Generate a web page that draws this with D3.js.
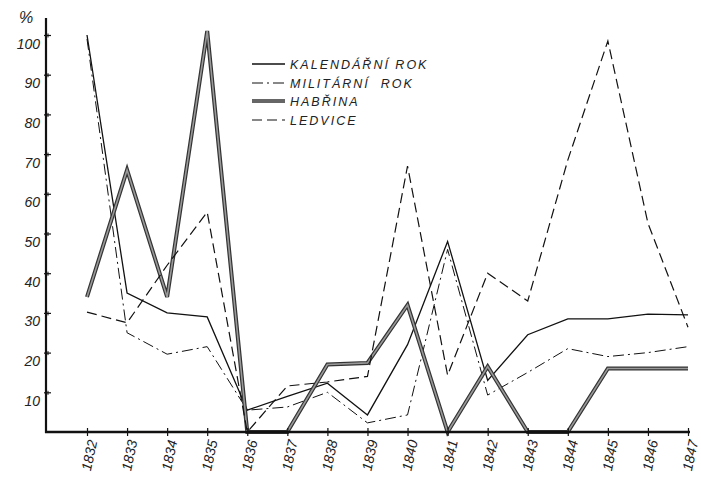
<!DOCTYPE html>
<html>
<head>
<meta charset="utf-8">
<script src="https://cdn.jsdelivr.net/npm/d3@7"></script>
<style>
  body { margin: 0; background: #fff; }
  svg { display: block; }
  .lbl { font-family: 'Liberation Sans', 'DejaVu Sans', sans-serif; font-style: italic; fill: #222; }
</style>
</head>
<body>
<div id="chart"></div>
<script>
// data
const years = [1832, 1833, 1834, 1835, 1836, 1837, 1838, 1839, 1840, 1841, 1842, 1843, 1844, 1845, 1846, 1847];
const kalendarni = [100, 35, 30, 29, 5.5, 9, 12.3, 4.3, 22, 48, 13, 24.5, 28.5, 28.5, 29.7, 29.5];
const militarni = [99, 25, 19.6, 21.5, 5.5, 6.3, 10, 2.3, 4.3, 46, 9.3, 15, 21, 19, 20, 21.5];
const habrina = [34, 66, 34, 101, 0, 0, 17, 17.4, 32, 0, 16.5, 0, 0, 16, 16, 16];
const ledvice = [30.2, 27.5, 42, 55.4, 0, 11.6, 12.6, 14, 67, 14.3, 40, 33, 68.5, 98.5, 52.6, 26.4];
const yTicks = [10, 20, 30, 40, 50, 60, 70, 80, 90, 100];

const series = [
  { name: 'KALENDÁŘNÍ ROK', values: kalendarni, style: 'solid' },
  { name: 'MILITÁRNÍ  ROK', values: militarni, style: 'dashdot' },
  { name: 'HABŘINA', values: habrina, style: 'thick' },
  { name: 'LEDVICE', values: ledvice, style: 'dashed' }
];

const width = 701, height = 484;
const axisX = 46, axisY = 432;

const svg = d3.select('#chart').append('svg')
  .attr('width', width)
  .attr('height', height);

const xScale = d3.scaleLinear()
  .domain([1832, 1847])
  .range([87, 688]);

const yScale = d3.scaleLinear()
  .domain([0, 100])
  .range([axisY, 35]);

function strokeIt(sel, style) {
  if (style === 'solid') {
    sel.attr('stroke', '#111').attr('stroke-width', 1.3);
  } else if (style === 'dashdot') {
    sel.attr('stroke', '#111').attr('stroke-width', 1).attr('stroke-dasharray', '11,4,2,4');
  } else if (style === 'dashed') {
    sel.attr('stroke', '#111').attr('stroke-width', 1.2).attr('stroke-dasharray', '10,5');
  }
}

const line = d3.line()
  .x((d, i) => xScale(years[i]))
  .y(d => yScale(d));

// lines
series.forEach(s => {
  if (s.style === 'thick') {
    svg.append('path')
      .attr('d', line(s.values))
      .attr('fill', 'none')
      .attr('stroke', '#333')
      .attr('stroke-width', 4)
      .attr('stroke-linejoin', 'miter');
    svg.append('path')
      .attr('d', line(s.values))
      .attr('fill', 'none')
      .attr('stroke', '#999')
      .attr('stroke-width', 1.6);
  } else {
    svg.append('path')
      .attr('d', line(s.values))
      .attr('fill', 'none')
      .call(strokeIt, s.style);
  }
});

// axes
const yAxis = d3.axisLeft(yScale)
  .tickValues(yTicks)
  .tickSize(0)
  .tickFormat('');

const xAxis = d3.axisBottom(xScale)
  .tickValues(years)
  .tickSize(0)
  .tickFormat('');

const yAxisG = svg.append('g').attr('transform', `translate(${axisX},0)`).call(yAxis);
yAxisG.select('.domain').remove();
yAxisG.append('line')
  .attr('x1', 0).attr('x2', 0)
  .attr('y1', 18).attr('y2', axisY + 1)
  .attr('stroke', '#111').attr('stroke-width', 2.2);
yAxisG.selectAll('.tick').append('line')
  .attr('x1', -2).attr('x2', 5)
  .attr('stroke', '#111').attr('stroke-width', 1.2);
yAxisG.selectAll('.tick').append('line')
  .attr('y1', -2).attr('y2', 2)
  .attr('x1', 2).attr('x2', 2)
  .attr('stroke', '#111').attr('stroke-width', 1);
yAxisG.selectAll('.tick').append('text')
  .attr('class', 'lbl')
  .attr('x', -6)
  .attr('y', 13)
  .attr('text-anchor', 'end')
  .attr('fill', '#222')
  .style('font-size', '14px')
  .text(d => d);

const xAxisG = svg.append('g').attr('transform', `translate(0,${axisY})`).call(xAxis);
xAxisG.select('.domain').remove();
xAxisG.append('line')
  .attr('x1', axisX - 1).attr('x2', 690)
  .attr('y1', 0).attr('y2', 0)
  .attr('stroke', '#111').attr('stroke-width', 2.6);
xAxisG.selectAll('.tick').append('line')
  .attr('y1', -4).attr('y2', 4)
  .attr('stroke', '#111').attr('stroke-width', 1.2);
xAxisG.selectAll('.tick').append('text')
  .attr('class', 'lbl')
  .attr('text-anchor', 'end')
  .attr('transform', 'translate(5,8) rotate(-78)')
  .attr('dy', '0.35em')
  .style('font-size', '14px')
  .text(d => d);

svg.append('text')
  .attr('class', 'lbl')
  .attr('x', 19).attr('y', 23)
  .style('font-size', '16px')
  .text('%');

// legend
const legendRows = [64, 83, 101, 120];
const legend = svg.append('g');
series.forEach((s, i) => {
  const ly = legendRows[i];
  if (s.style === 'thick') {
    legend.append('line')
      .attr('x1', 252).attr('x2', 285).attr('y1', ly).attr('y2', ly)
      .attr('stroke', '#333').attr('stroke-width', 3.4);
    legend.append('line')
      .attr('x1', 252).attr('x2', 285).attr('y1', ly).attr('y2', ly)
      .attr('stroke', '#999').attr('stroke-width', 1.2);
  } else {
    legend.append('line')
      .attr('x1', 252).attr('x2', 285).attr('y1', ly).attr('y2', ly)
      .call(strokeIt, s.style);
  }
  legend.append('text')
    .attr('class', 'lbl')
    .attr('x', 290)
    .attr('y', ly + 5)
    .style('font-size', '12.5px')
    .style('letter-spacing', '2px')
    .style('white-space', 'pre')
    .text(s.name);
});
</script>
</body>
</html>
